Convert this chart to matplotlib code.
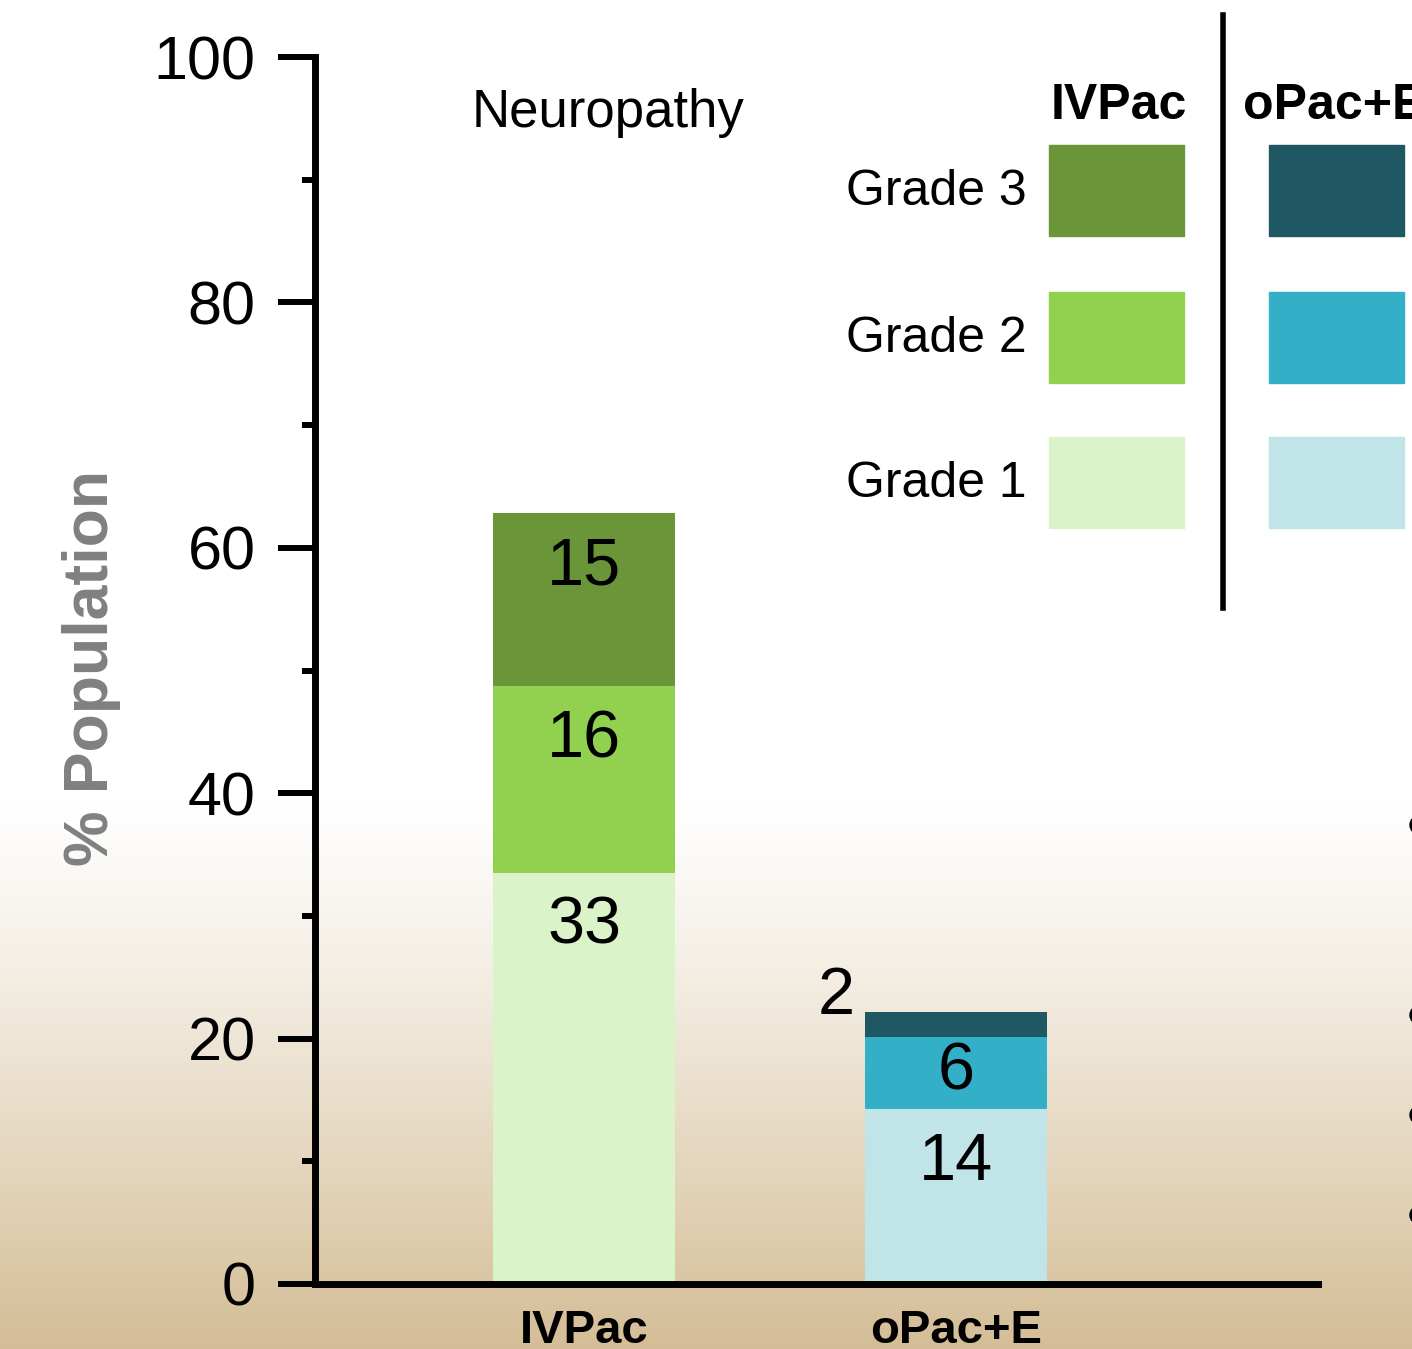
import numpy as np
import matplotlib
matplotlib.use("Agg")
import matplotlib.pyplot as plt
from matplotlib.patches import Rectangle, Circle
from matplotlib.lines import Line2D
from matplotlib import transforms

plt.rcParams['font.family'] = ['Liberation Sans', 'DejaVu Sans']

# data
groups = ["IVPac", "oPac+E"]
grades = ["Grade 1", "Grade 2", "Grade 3"]
ivpac = [33.5, 15.2, 14.1]        # bar heights
opac = [14.3, 5.8, 2.1]
ivpac_labels = ["33", "16", "15"]
opac_labels = ["14", "6", "2"]
ivpac_colors = ["#dbf3c8", "#92d050", "#6a9538"]
opac_colors = ["#c0e4e8", "#33afc7", "#1f5763"]
yticks = [0, 20, 40, 60, 80, 100]

W, H = 1412, 1349
fig = plt.figure(figsize=(W / 100, H / 100), dpi=100)

# background gradient: white on top, tan at the bottom
bg = fig.add_axes([0, 0, 1, 1], zorder=-10)
rows = np.arange(H)
t = np.clip((rows - 800) / (H - 800), 0, 1) ** 1.15
top = np.array([255, 255, 255]) / 255
bot = np.array([212, 189, 150]) / 255
grad = top[None, :] * (1 - t[:, None]) + bot[None, :] * t[:, None]
img = np.repeat(grad[:, None, :], 4, axis=1)
bg.imshow(img, aspect="auto", extent=[0, 1, 0, 1], origin="upper")
bg.set_axis_off()

# pixel transform (origin top-left)
px = transforms.Affine2D().scale(1 / W, -1 / H).translate(0, 1) + fig.transFigure

ax = fig.add_axes([315 / W, (H - 1284) / H, (1318 - 315) / W, (1284 - 57) / H])
ax.set_facecolor("none")

x = np.arange(len(groups))
width = 0.489
for xi, vals, cols, labs in [(0, ivpac, ivpac_colors, ivpac_labels),
                             (1, opac, opac_colors, opac_labels)]:
    bottom = 0
    for v, c in zip(vals, cols):
        ax.bar(xi, v, width, bottom=bottom, color=c, zorder=2)
        bottom += v
    # value labels
    bottom = 0
    for v, lab in zip(vals, labs):
        if v > 10:
            ax.text(xi, bottom + v - 4.4, lab, ha="center", va="center", fontsize=48, zorder=3)
        elif v > 4:
            ax.text(xi, bottom + v / 2, lab, ha="center", va="center", fontsize=48, zorder=3)
        else:
            ax.text(xi - 0.323, bottom + v + 1.2, lab, ha="center", va="center", fontsize=48, zorder=3)
        bottom += v

ax.set_xlim(-0.723, 1.973)
ax.set_ylim(0, 100)
ax.set_xticks(x)
ax.set_xticklabels(groups, fontsize=34, fontweight="bold")
ax.tick_params(axis="x", length=0, pad=18)
ax.set_yticks(yticks)
ax.set_yticks([10, 30, 50, 70, 90], minor=True)
ax.tick_params(axis="y", which="major", length=26.6, width=4.3, labelsize=44, pad=16)
ax.tick_params(axis="y", which="minor", length=9.4, width=4.3)
for s in ["top", "right"]:
    ax.spines[s].set_visible(False)
for s in ["left", "bottom"]:
    ax.spines[s].set_linewidth(5)

ax.text(0.065, 95.4, "Neuropathy", ha="center", va="center", fontsize=38)
fig.text(92 / W, 1 - 668 / H, "% Population", rotation=90, ha="center", va="center",
         fontsize=45, fontweight="bold", color="#808080")

# legend drawn by hand
fig.text(1119 / W, 1 - 106 / H, "IVPac", ha="center", va="center", fontsize=36, fontweight="bold")
fig.text(1243 / W, 1 - 106 / H, "oPac+E", ha="left", va="center", fontsize=36, fontweight="bold")
rows_y = [482, 337, 190]
for g, yy, c1, c2 in zip(grades, rows_y, ivpac_colors, opac_colors):
    fig.text(1027 / W, 1 - (yy + 2) / H, g, ha="right", va="center", fontsize=36)
    fig.add_artist(Rectangle((1049, yy - 45), 135, 91, transform=px, color=c1))
    fig.add_artist(Rectangle((1269, yy - 45), 135, 91, transform=px, color=c2))
fig.add_artist(Line2D([1223, 1223], [15, 608], transform=px, color="black", lw=4))

for yy in [825, 1015, 1115, 1215]:
    fig.add_artist(Circle((1419, yy), 9, transform=px, color="black"))

fig.savefig("out.png", dpi=100)
